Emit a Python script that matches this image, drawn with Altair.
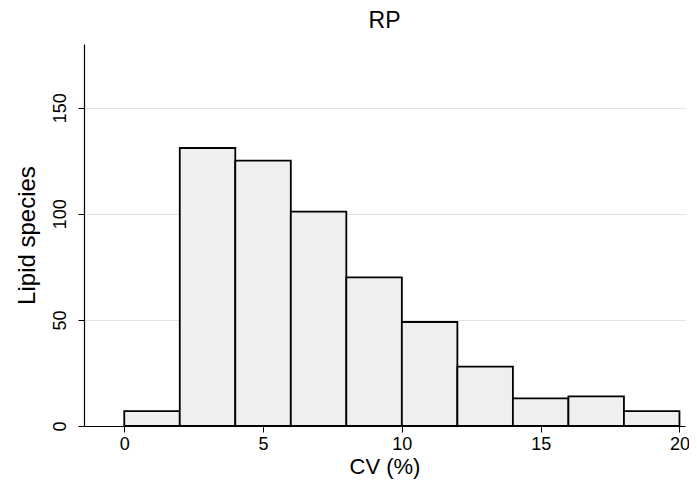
import altair as alt
import pandas as pd

bin_start = [0, 2, 4, 6, 8, 10, 12, 14, 16, 18]
bin_end = [2, 4, 6, 8, 10, 12, 14, 16, 18, 20]
counts = [7, 131, 125, 101, 70, 49, 28, 13, 14, 7]

df = pd.DataFrame({"start": bin_start, "end": bin_end, "count": counts})

FONT = "Liberation Sans"

chart = alt.Chart(df).mark_bar(
    fill="#efefef", stroke="black", strokeWidth=1.8
).encode(
    x=alt.X("start:Q",
            scale=alt.Scale(domain=[-1.45, 20.2], nice=False, zero=False),
            axis=alt.Axis(title="CV (%)", values=[0, 5, 10, 15, 20], grid=False,
                          tickSize=6, labelPadding=3, labelFontSize=18,
                          titleFontSize=22, titlePadding=3, titleFontWeight="normal",
                          domainColor="black", tickColor="black", labelColor="black",
                          titleColor="black", labelFont=FONT, titleFont=FONT)),
    x2="end:Q",
    y=alt.Y("count:Q",
            scale=alt.Scale(domain=[0, 180], nice=False),
            axis=alt.Axis(title="Lipid species", values=[0, 50, 100, 150], grid=True,
                          gridColor="#e3e3e3", gridWidth=1,
                          tickSize=6, labelPadding=9, labelFontSize=18, labelAngle=270,
                          labelAlign="center", labelBaseline="bottom",
                          titleFontSize=24, titlePadding=12, titleFontWeight="normal",
                          domainColor="black", tickColor="black", labelColor="black",
                          titleColor="black", labelFont=FONT, titleFont=FONT)),
    y2=alt.datum(0),
).properties(
    width=601,
    height=382,
    title=alt.TitleParams("RP", fontSize=23, font=FONT, fontWeight="normal",
                          color="black", anchor="middle", offset=11, dx=0),
    autosize=alt.AutoSizeParams(type="none"),
    padding={"left": 76, "top": 36, "right": 4, "bottom": 55},
).configure_view(stroke=None).configure_axisY(
    domainWidth=1.2
).configure_axisX(domainWidth=1.2)

chart.save("out.html", embed_options={"renderer": "svg", "actions": False})
